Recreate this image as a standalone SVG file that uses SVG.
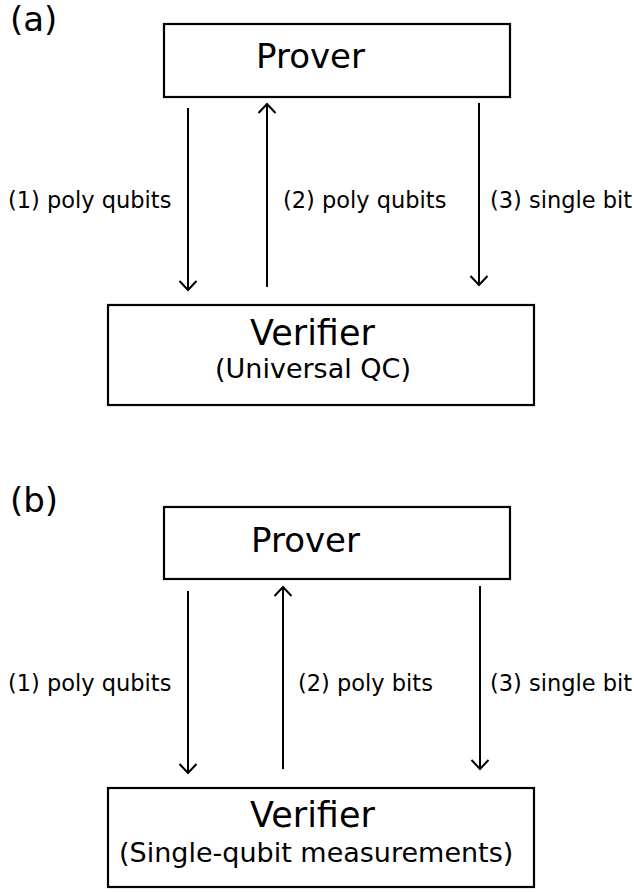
<svg xmlns="http://www.w3.org/2000/svg" width="634" height="892" viewBox="0 0 634 892">
<defs>
<style>
text{font-family:"DejaVu Sans","Liberation Sans",sans-serif;fill:#000}
.box{fill:#fff;stroke:#000;stroke-width:2.2}
.ln{stroke:#000;stroke-width:2;fill:none}
.big{font-size:34px}
.ver{font-size:35px}
.sub{font-size:27px}
.lab{font-size:22.5px}
</style>
<marker id="ah" viewBox="-10 -10 20 20" markerWidth="20" markerHeight="20" refX="0" refY="0" orient="auto" markerUnits="userSpaceOnUse">
<path d="M-9,-8.5 L0,0 L-9,8.5" fill="none" stroke="#000" stroke-width="2"/>
</marker>
</defs>
<rect width="634" height="892" fill="#fff"/>
<text class="big" x="10" y="31">(a)</text>
<g id="proverA">
<rect class="box" x="164" y="24" width="346" height="73"/>
<text class="big" x="256" y="68">Prover</text>
</g>
<g id="verifierA">
<rect class="box" x="108" y="305" width="426" height="100"/>
<text class="ver" x="250" y="345">Verifier</text>
<text class="sub" x="215" y="378">(Universal QC)</text>
</g>
<g id="connectorsA">
<line class="ln" x1="188" y1="108" x2="188" y2="290" marker-end="url(#ah)"/>
<line class="ln" x1="267" y1="287" x2="267" y2="104" marker-end="url(#ah)"/>
<line class="ln" x1="479" y1="103" x2="479" y2="285" marker-end="url(#ah)"/>
<text class="lab" x="8" y="208">(1) poly qubits</text>
<text class="lab" x="283" y="208">(2) poly qubits</text>
<text class="lab" x="490" y="208">(3) single bit</text>
</g>
<text class="big" x="10" y="512">(b)</text>
<g id="proverB">
<rect class="box" x="164" y="507" width="346" height="72"/>
<text class="big" x="251" y="552">Prover</text>
</g>
<g id="verifierB">
<rect class="box" x="108" y="788" width="426" height="99"/>
<text class="ver" x="250" y="827">Verifier</text>
<text class="sub" x="119" y="862">(Single-qubit measurements)</text>
</g>
<g id="connectorsB">
<line class="ln" x1="188" y1="591" x2="188" y2="773" marker-end="url(#ah)"/>
<line class="ln" x1="283" y1="769" x2="283" y2="587" marker-end="url(#ah)"/>
<line class="ln" x1="480" y1="586" x2="480" y2="769" marker-end="url(#ah)"/>
<text class="lab" x="8" y="691">(1) poly qubits</text>
<text class="lab" x="298" y="691">(2) poly bits</text>
<text class="lab" x="490" y="691">(3) single bit</text>
</g>
</svg>
